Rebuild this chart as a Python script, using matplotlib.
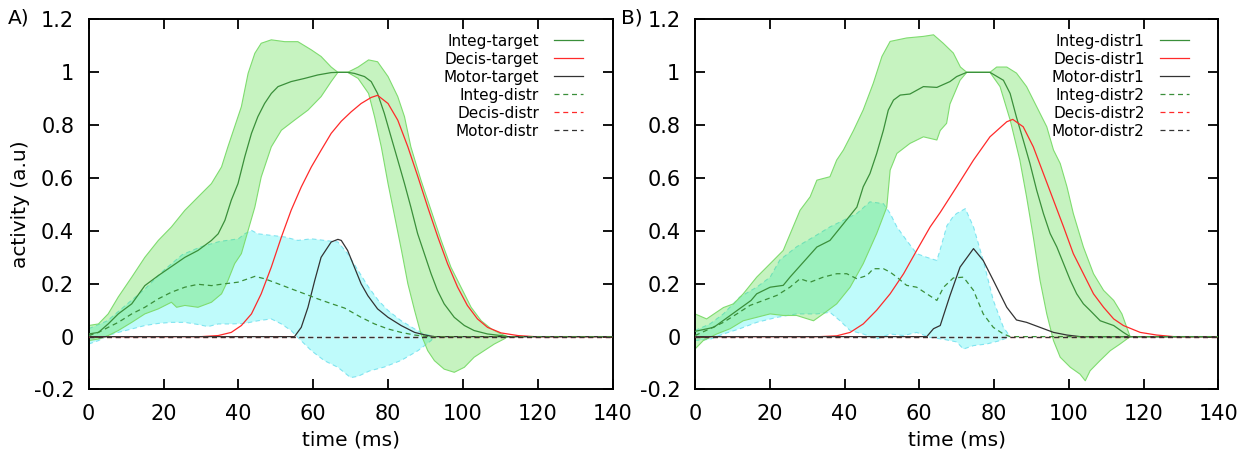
import matplotlib
matplotlib.use('Agg')
import matplotlib.pyplot as plt
import numpy as np

# ---------------- panel A : target ----------------
a_t_integ = [0, 2.6, 5.2, 7.9, 11.5, 15, 18.6, 22.1, 25.7, 29.2, 32.8, 34.6, 36.4, 38.1, 39.9,
             41.7, 43.5, 45.2, 47, 48.8, 50.6, 54.1, 57.7, 61.2, 64.8, 66.6, 69.2, 71, 73.7, 75.5,
             77.2, 79, 80.8, 82.6, 84.4, 86.1, 87.9, 89.7, 91.5, 93.2, 95, 97.7, 100.4, 103, 106.6,
             110.2, 112, 140]
a_integ = [0.01, 0.016, 0.048, 0.086, 0.124, 0.193, 0.231, 0.265, 0.3, 0.326, 0.364, 0.389, 0.44, 0.516, 0.579,
           0.68, 0.769, 0.832, 0.882, 0.92, 0.946, 0.965, 0.977, 0.99, 0.999, 1.0, 1.0, 0.996, 0.984, 0.965,
           0.92, 0.845, 0.756, 0.668, 0.579, 0.49, 0.39, 0.314, 0.238, 0.175, 0.124, 0.073, 0.042, 0.023, 0.01,
           0.004, 0.0, 0.0]

a_t_integ_up = [0, 2.6, 5.2, 7.9, 11.5, 15, 18.6, 22.1, 25.7, 29.2, 32.8, 35.5, 37.2, 39, 40.8,
                42.6, 44.4, 46.1, 48.8, 52.4, 55.9, 59.5, 62.1, 64.8, 66.6, 69.2, 72, 74.8, 77.2, 80,
                82.6, 84.4, 86.1, 88.8, 91.5, 94.2, 96.8, 99.5, 102.2, 104.9, 107.6, 110.2, 112]
a_integ_up = [0.042, 0.048, 0.086, 0.15, 0.225, 0.3, 0.364, 0.415, 0.478, 0.528, 0.579, 0.642, 0.718, 0.794, 0.87,
              0.996, 1.072, 1.11, 1.123, 1.116, 1.116, 1.085, 1.06, 1.02, 1.0, 1.0, 1.02, 1.047, 1.04, 0.984,
              0.908, 0.832, 0.718, 0.592, 0.478, 0.364, 0.263, 0.187, 0.111, 0.06, 0.029, 0.01, 0.0]
a_t_integ_lo = [0, 2.6, 5.2, 7.9, 11.5, 15, 18.6, 22.1, 23.5, 25.7, 29.2, 32.8, 35.5, 37.2, 39,
                40.8, 42.6, 44.4, 46.1, 48.8, 51.5, 55, 58.6, 62.1, 64.8, 66.6, 69.2, 72, 74.8, 76.4,
                78.2, 80, 81.8, 83.6, 85.3, 87.1, 88.8, 90.6, 92.4, 95, 97.7, 100.4, 103, 105.7, 108.4,
                111, 112]
a_integ_lo = [-0.015, -0.009, 0.004, 0.023, 0.054, 0.086, 0.105, 0.13, 0.111, 0.118, 0.111, 0.13, 0.162, 0.212, 0.276,
              0.314, 0.402, 0.49, 0.604, 0.718, 0.781, 0.819, 0.857, 0.908, 0.965, 1.0, 1.0, 0.977, 0.92, 0.832,
              0.718, 0.579, 0.453, 0.326, 0.2, 0.099, 0.01, -0.053, -0.091, -0.123, -0.135, -0.116, -0.078, -0.053, -0.028,
              -0.009, 0.0]

a_t_decis = [0, 30.1, 34.6, 38.1, 40.8, 43.5, 46.1, 48.8, 51.5, 54.1, 56.8, 59.5, 62.1, 64.8, 67.5,
             70.1, 72.8, 75.5, 77.2, 80, 82.6, 85.3, 88, 90.6, 93.3, 95.9, 98.6, 101.2, 103.9, 106.6,
             110.2, 114.7, 119, 140]
a_decis = [0, 0, 0.004, 0.016, 0.042, 0.086, 0.162, 0.263, 0.377, 0.478, 0.566, 0.642, 0.705, 0.769, 0.815,
           0.85, 0.882, 0.905, 0.913, 0.882, 0.819, 0.718, 0.604, 0.49, 0.377, 0.276, 0.187, 0.118, 0.067, 0.035,
           0.014, 0.004, 0, 0]

a_t_motor = [0, 55, 56.8, 58.6, 60.4, 62.1, 64.8, 66.6, 67.5, 69.2, 71, 72.8, 74.6, 77.2, 80,
             83.5, 87.1, 90.6, 92.4, 140]
a_motor = [0, 0, 0.035, 0.111, 0.212, 0.3, 0.358, 0.368, 0.364, 0.326, 0.263, 0.2, 0.155, 0.105, 0.073,
           0.042, 0.016, 0.004, 0, 0]

a_t_idistr = [0, 2.6, 5.2, 7.9, 11.5, 15, 18.6, 22.1, 25.7, 29.2, 32.8, 36.4, 39.9, 42.6, 44.4,
              47, 50.6, 54.1, 57.7, 61.2, 64.8, 68.4, 72.8, 76.4, 80, 83.5, 87.1, 90.6, 140]
a_idistr = [0.004, 0.016, 0.035, 0.054, 0.086, 0.111, 0.143, 0.168, 0.187, 0.198, 0.193, 0.2, 0.206, 0.219, 0.228,
            0.219, 0.2, 0.181, 0.162, 0.143, 0.125, 0.108, 0.073, 0.048, 0.029, 0.016, 0.006, 0.0, 0.0]

a_t_cyan_up = [0, 5, 10, 15, 20, 25, 30, 35, 40, 41.7, 43.5, 45.2, 48.8, 52.4, 55.9,
               59.5, 63, 66.6, 69.2, 72, 74.8, 77.4, 80, 83.5, 87.1, 89.7, 92.4]
a_cyan_up = [0.03, 0.06, 0.12, 0.18, 0.25, 0.31, 0.34, 0.36, 0.37, 0.389, 0.402, 0.389, 0.383, 0.377, 0.364,
             0.37, 0.364, 0.358, 0.314, 0.25, 0.187, 0.137, 0.099, 0.06, 0.029, 0.01, 0.0]
a_t_cyan_lo = [0, 2.6, 5.2, 7.9, 11.5, 15, 18.6, 22.1, 25.7, 29.2, 31.9, 34.6, 38.1, 41.7, 45.2,
               48.8, 51.5, 54.1, 55.9, 59.5, 63, 66.6, 70, 72, 75, 79, 83.5, 88, 91.5, 92.4]
a_cyan_lo = [-0.028, -0.015, 0.004, 0.016, 0.029, 0.042, 0.05, 0.054, 0.054, 0.046, 0.038, 0.048, 0.048, 0.05, 0.06,
             0.067, 0.048, 0.023, -0.003, -0.053, -0.091, -0.116, -0.155, -0.15, -0.13, -0.115, -0.09, -0.053, -0.015, 0.0]

# ---------------- panel B : distractors ----------------
b_t_integ = [0, 5, 10, 15, 16.5, 20.1, 23.6, 25.4, 29, 32.6, 36.1, 39.7, 43.3, 45, 46.8,
             48.6, 50.4, 51.7, 53.1, 54.9, 57.5, 61.1, 64.7, 68.2, 70, 72.7, 78.9, 82.5, 84.3, 86,
             87.8, 89.6, 91.4, 93.2, 95, 96.8, 98.6, 100.4, 102.1, 103.9, 105.7, 108.4, 112, 114.6, 116.4,
             140]
b_integ = [0.02, 0.035, 0.086, 0.137, 0.162, 0.187, 0.194, 0.225, 0.282, 0.339, 0.364, 0.427, 0.49, 0.567, 0.617,
           0.693, 0.781, 0.857, 0.895, 0.914, 0.918, 0.946, 0.943, 0.965, 0.984, 1.0, 1.0, 0.97, 0.92, 0.83,
           0.744, 0.655, 0.554, 0.466, 0.39, 0.339, 0.276, 0.213, 0.162, 0.124, 0.099, 0.06, 0.042, 0.016, 0.0,
           0.0]

b_t_integ_up = [0, 3.1, 7.6, 10.3, 12.9, 16.5, 20.1, 23.6, 28.1, 30.8, 32.6, 36.1, 37.9, 39.7, 42.4,
                45, 47.7, 50, 52.2, 56.6, 61.1, 63.8, 66.4, 69.1, 71, 72.7, 78.9, 80.7, 83.4, 86,
                88.7, 91.4, 94.1, 95.9, 97.7, 99.5, 101.2, 103.9, 106.6, 109.3, 112, 114.2, 116.4]
b_integ_up = [0.086, 0.067, 0.11, 0.124, 0.162, 0.225, 0.276, 0.326, 0.478, 0.529, 0.592, 0.605, 0.668, 0.706, 0.78,
              0.858, 0.959, 1.06, 1.117, 1.13, 1.136, 1.142, 1.11, 1.073, 1.02, 1.0, 1.0, 1.02, 1.02, 0.997,
              0.946, 0.87, 0.794, 0.706, 0.655, 0.567, 0.466, 0.339, 0.238, 0.175, 0.137, 0.086, 0.0]
b_t_integ_lo = [0, 2.2, 5.8, 9.4, 12.9, 16.5, 20.1, 23.6, 27.2, 31.7, 34.3, 37.9, 41.5, 45, 48.6,
                51.3, 52.2, 54, 57.5, 61.1, 64.7, 65.6, 67.3, 68.2, 70.9, 72.7, 78.9, 81.6, 84.3, 86.9,
                88.7, 90.5, 92.3, 94.1, 95.9, 97.7, 100.4, 103, 104.4, 105.7, 108.4, 111.1, 113.7, 116.4]
b_integ_lo = [-0.047, -0.015, 0.01, 0.03, 0.06, 0.073, 0.086, 0.08, 0.08, 0.06, 0.086, 0.124, 0.187, 0.276, 0.39,
              0.49, 0.63, 0.693, 0.731, 0.756, 0.744, 0.78, 0.807, 0.88, 0.97, 1.0, 1.0, 0.946, 0.82, 0.668,
              0.529, 0.377, 0.213, 0.086, -0.015, -0.078, -0.116, -0.142, -0.167, -0.129, -0.09, -0.053, -0.028, 0.0]

b_t_decis = [0, 33.5, 37.9, 41.5, 45, 48.6, 52.2, 55.8, 59.3, 62.9, 65.6, 70, 74.5, 78.9, 83.4,
             85, 87.8, 90.5, 93.2, 95.9, 98.6, 101.2, 103.9, 106.6, 109.3, 112, 114.6, 119.1, 123.5, 128,
             140]
b_decis = [0, 0, 0.003, 0.016, 0.048, 0.1, 0.162, 0.238, 0.326, 0.415, 0.47, 0.567, 0.668, 0.756, 0.813,
           0.822, 0.794, 0.718, 0.617, 0.516, 0.415, 0.314, 0.238, 0.162, 0.111, 0.067, 0.042, 0.016, 0.006, 0.0,
           0.0]

b_t_motor = [0, 62, 63.8, 65.6, 68.2, 70.9, 74.5, 77.1, 79.8, 83.4, 86, 88.7, 92.3, 95.9, 99.5, 103, 140]
b_motor = [0, 0, 0.03, 0.042, 0.155, 0.263, 0.333, 0.288, 0.213, 0.111, 0.063, 0.054, 0.035, 0.016, 0.006, 0, 0]

b_t_idistr = [0, 4, 7.6, 11.2, 14.7, 18.3, 21.9, 25.4, 28.1, 30.8, 34.3, 37.9, 40.6, 43.3, 46,
              47.7, 50.4, 52.2, 54, 56.6, 59.3, 62, 64.7, 66.5, 69.1, 71.8, 74.5, 77.1, 79.8, 82.5,
              84.3, 140]
b_idistr = [0.004, 0.03, 0.054, 0.086, 0.118, 0.137, 0.156, 0.187, 0.219, 0.206, 0.225, 0.238, 0.238, 0.219, 0.231,
            0.257, 0.257, 0.244, 0.225, 0.194, 0.187, 0.162, 0.137, 0.187, 0.222, 0.225, 0.175, 0.086, 0.035, 0.01,
            0.0, 0.0]

b_t_cyan_up = [0, 4, 7.6, 12, 16.5, 20.1, 22.7, 27.2, 31.7, 36.1, 39.7, 43.3, 46.8, 50.4, 52.2,
               54, 56.6, 59.3, 62, 64.7, 65.6, 67.4, 69.1, 70, 72.3, 74.5, 77.1, 79.8, 82.5, 84.3]
b_cyan_up = [0.023, 0.048, 0.086, 0.15, 0.187, 0.225, 0.29, 0.34, 0.377, 0.415, 0.44, 0.466, 0.51, 0.503, 0.466,
             0.415, 0.364, 0.314, 0.3, 0.288, 0.33, 0.42, 0.455, 0.466, 0.484, 0.415, 0.288, 0.137, 0.035, 0.0]
b_t_cyan_lo = [0, 4, 7.6, 12, 16.5, 21.9, 27.2, 32.6, 36.1, 38.8, 41.5, 45, 48.6, 52.2, 55.8,
               59.3, 62.9, 66.5, 68.2, 70, 71.8, 74.5, 78, 81.6, 84.3]
b_cyan_lo = [-0.015, -0.01, 0.01, 0.03, 0.054, 0.073, 0.086, 0.086, 0.092, 0.06, 0.023, 0.01, -0.009, 0.01, 0.004,
             0.016, -0.003, -0.01, -0.015, -0.02, -0.047, -0.034, -0.028, -0.015, 0.0]

# series that stay at zero over the whole trial
t_zero = [0, 140]
zero = [0, 0]

labels_a = ['Integ-target', 'Decis-target', 'Motor-target', 'Integ-distr', 'Decis-distr', 'Motor-distr']
labels_b = ['Integ-distr1', 'Decis-distr1', 'Motor-distr1', 'Integ-distr2', 'Decis-distr2', 'Motor-distr2']

x_ticks = [0, 20, 40, 60, 80, 100, 120, 140]
y_ticks = [-0.2, 0, 0.2, 0.4, 0.6, 0.8, 1, 1.2]
y_tick_labels = ['-0.2', '0', '0.2', '0.4', '0.6', '0.8', '1', '1.2']

GREEN = '#3a8f3a'
RED = '#ff2a2a'
DARK = '#333333'
DASH = (0, (4, 3))


def band(ax, t_up, up, t_lo, lo, face, alpha, edge, ls, z):
    xs = np.concatenate([t_up, t_lo[::-1]])
    ys = np.concatenate([up, lo[::-1]])
    ax.fill(xs, ys, facecolor=face, alpha=alpha, edgecolor='none', zorder=z)
    ax.plot(t_up, up, color=edge, lw=0.8, ls=ls, zorder=z + 0.1)
    ax.plot(t_lo, lo, color=edge, lw=0.8, ls=ls, zorder=z + 0.1)


def panel(ax, integ, integ_band, decis, motor, idistr, cyan_band, labels):
    band(ax, *cyan_band, face='#00f0f0', alpha=0.25, edge='#80e4f0', ls=DASH, z=1)
    band(ax, *integ_band, face='#4fdc3c', alpha=0.32, edge='#7fdc6f', ls='-', z=2)

    ax.plot(*integ, color=GREEN, lw=0.9, label=labels[0], zorder=3)
    ax.plot(*decis, color=RED, lw=0.9, label=labels[1], zorder=3)
    ax.plot(*motor, color=DARK, lw=0.9, label=labels[2], zorder=3)
    ax.plot(*idistr, color=GREEN, lw=0.9, ls=DASH, label=labels[3], zorder=3)
    ax.plot(t_zero, zero, color=RED, lw=0.9, ls=DASH, label=labels[4], zorder=3)
    ax.plot(t_zero, zero, color=DARK, lw=0.9, ls=DASH, label=labels[5], zorder=3)

    ax.set_xlim(0, 140)
    ax.set_ylim(-0.2, 1.2)
    ax.set_xticks(x_ticks)
    ax.set_yticks(y_ticks)
    ax.set_yticklabels(y_tick_labels)
    ax.tick_params(direction='in', length=7, width=1.3, top=True, right=True,
                   labelsize=15, pad=10.5)
    for s in ax.spines.values():
        s.set_linewidth(1.4)
    ax.set_xlabel('time (ms)', fontsize=14.5)
    ax.xaxis.set_label_coords(0.5, -0.11)
    ax.legend(loc='upper right', bbox_to_anchor=(0.944, 0.962), frameon=False,
              markerfirst=False, fontsize=11, handlelength=1.9, handletextpad=1.0,
              labelspacing=0.2, borderpad=0, borderaxespad=0)


fig = plt.figure(figsize=(12.46, 4.55), dpi=100)
ax_a = fig.add_axes([0.0712, 0.144, 0.4204, 0.8132])
ax_b = fig.add_axes([0.5578, 0.144, 0.42, 0.8132])

panel(ax_a, (a_t_integ, a_integ),
      (a_t_integ_up, a_integ_up, a_t_integ_lo, a_integ_lo),
      (a_t_decis, a_decis), (a_t_motor, a_motor), (a_t_idistr, a_idistr),
      (a_t_cyan_up, a_cyan_up, a_t_cyan_lo, a_cyan_lo), labels_a)
panel(ax_b, (b_t_integ, b_integ),
      (b_t_integ_up, b_integ_up, b_t_integ_lo, b_integ_lo),
      (b_t_decis, b_decis), (b_t_motor, b_motor), (b_t_idistr, b_idistr),
      (b_t_cyan_up, b_cyan_up, b_t_cyan_lo, b_cyan_lo), labels_b)

ax_a.set_ylabel('activity (a.u)', fontsize=14.5)
ax_a.yaxis.set_label_coords(-0.113, 0.5)

fig.text(0.006, 0.982, 'A)', fontsize=14.5, va='top', ha='left')
fig.text(0.498, 0.982, 'B)', fontsize=14.5, va='top', ha='left')

fig.savefig('out.png', dpi=100)
